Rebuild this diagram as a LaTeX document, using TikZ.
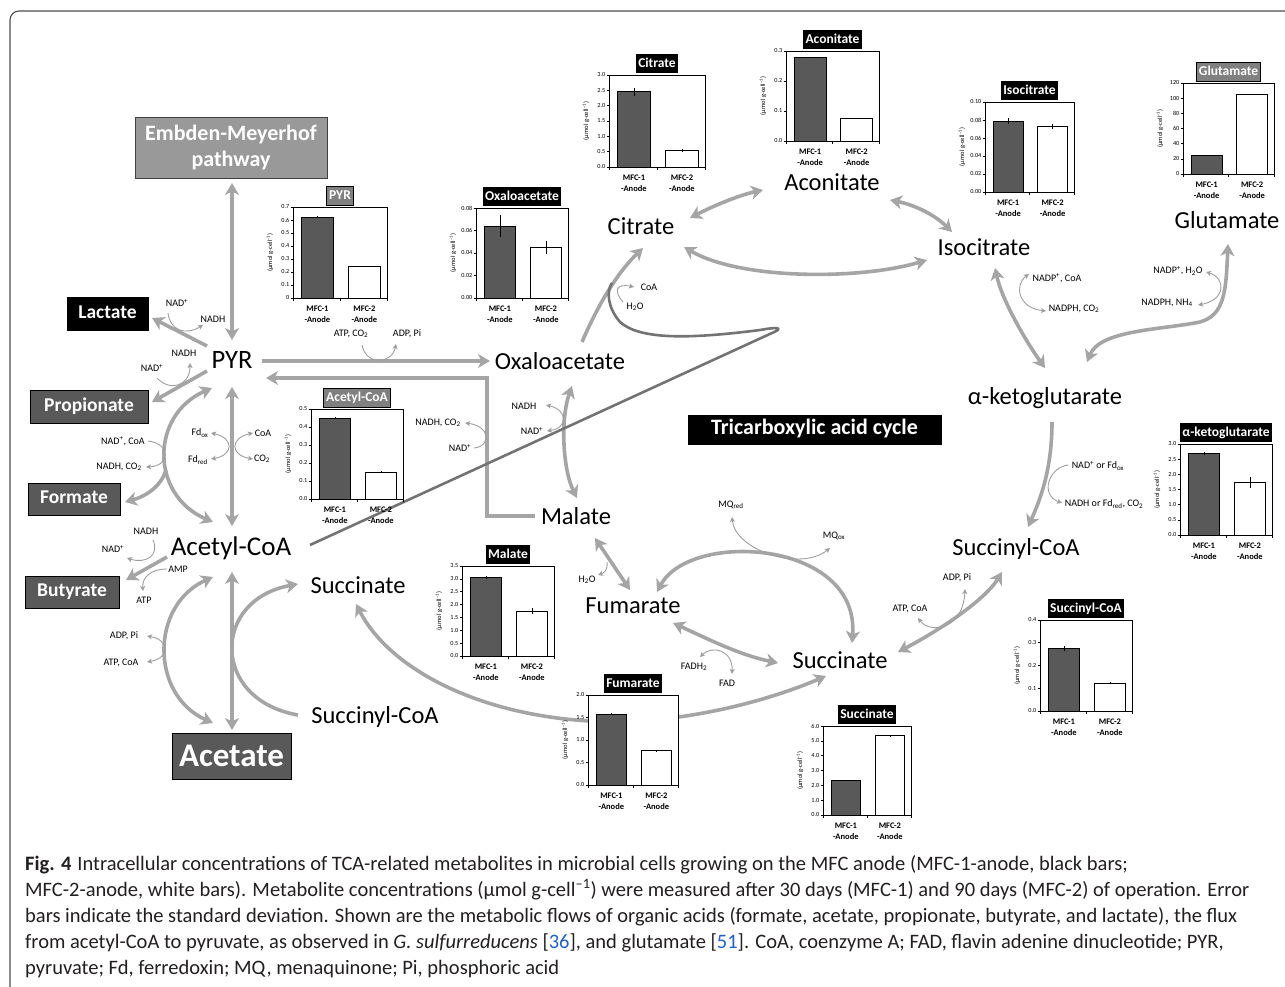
\documentclass[tikz,border=0pt]{standalone}
\usepackage{fontspec}
\setmainfont{Carlito}
\usetikzlibrary{arrows.meta,calc}
\definecolor{arr}{HTML}{A5A5A5}
\definecolor{cofc}{HTML}{9E9E9E}
\definecolor{dk}{HTML}{595959}
\definecolor{tgray}{HTML}{808080}
\definecolor{embc}{HTML}{999999}
\definecolor{loopc}{HTML}{737373}
\definecolor{framec}{HTML}{4D4D4D}
\definecolor{refblue}{HTML}{1F5FD6}
\definecolor{captxt}{HTML}{231F20}
\tikzset{
 FT/.tip={Stealth[length=12pt,width=14pt,inset=3.5pt]},
 ST/.tip={Stealth[length=5pt,width=5pt,inset=1.2pt]},
 flux/.style={draw=arr,line width=3.6pt},
 cofl/.style={draw=cofc,line width=0.9pt},
 loopl/.style={draw=loopc,line width=2.6pt},
 met/.style={inner sep=0pt,text height=16pt,text depth=0pt,font=\fontsize{24.5}{26}\selectfont},
 cof/.style={inner sep=0pt,font=\fontsize{10}{12}\selectfont},
 boxbase/.style={draw=black,fill=dk,text=white,inner sep=0pt,font=\bfseries\fontsize{19.5}{22}\selectfont},
 box/.style={boxbase,text height=12.5pt,text depth=3pt},
 ticklab/.style={anchor=east,inner sep=0pt,font=\fontsize{6.2}{7}\selectfont},
 xlab/.style={inner sep=0pt,font=\bfseries\fontsize{8.5}{9}\selectfont},
 ylab/.style={inner sep=0pt,rotate=90,font=\fontsize{6.5}{7}\selectfont},
 ctitle/.style={anchor=south,text=white,inner xsep=2.5pt,inner ysep=0pt,minimum height=19pt,text height=9.5pt,text depth=2.5pt,font=\bfseries\fontsize{13.5}{14}\selectfont},
 axisl/.style={draw=black,line width=0.6pt},
 capn/.style={anchor=base west,inner sep=0pt,text=captxt,font=\fontsize{20.5}{22}\selectfont},
}
\newcommand\mchart[8]{%
  \def\cL{#2}\def\cT{#3}\def\cR{#4}\def\cB{#5}\def\cM{#6}%
  \fill[white] (#2,#3) rectangle (#4,#5);
  \pgfmathtruncatemacro\cN{round(#6/#7)}%
  \foreach \i in {0,...,\cN}{%
    \pgfmathsetmacro\cy{#5-\i*#7/#6*(#5-#3)}%
    \pgfmathsetmacro\cv{\i*#7}%
    \draw[axisl] (#2-2.5,\cy) -- (#2,\cy);
    \node[ticklab] (#1t\i) at (#2-3.5,\cy) {\pgfmathprintnumber[#8,assume math mode=true]{\cv}};
  }%
  \pgfmathsetmacro\cXm{#2+0.26*(#4-#2)}%
  \pgfmathsetmacro\cXn{#2+0.76*(#4-#2)}%
  \node[xlab] (#1xa) at (\cXm,#5+11) {MFC-1};
  \node[xlab] (#1xb) at (\cXm,#5+22) {-Anode};
  \node[xlab] (#1xc) at (\cXn,#5+11) {MFC-2};
  \node[xlab] (#1xd) at (\cXn,#5+22) {-Anode};
  \node[ylab] (#1y) at (#2-23,{(#3+#5)/2}) {(μmol g-cell\textsuperscript{–1})};
}
\newcommand\mbars[4]{%
  \pgfmathsetmacro\cW{\cR-\cL}\pgfmathsetmacro\cH{\cB-\cT}%
  \pgfmathsetmacro\cYa{\cB-#1/\cM*\cH}\pgfmathsetmacro\cYb{\cB-#3/\cM*\cH}%
  \pgfmathsetmacro\cEa{#2/\cM*\cH}\pgfmathsetmacro\cEb{#4/\cM*\cH}%
  \pgfmathsetmacro\cXa{\cL+0.09*\cW}\pgfmathsetmacro\cXb{\cL+0.43*\cW}%
  \pgfmathsetmacro\cXc{\cL+0.59*\cW}\pgfmathsetmacro\cXd{\cL+0.93*\cW}%
  \pgfmathsetmacro\cXm{\cL+0.26*\cW}\pgfmathsetmacro\cXn{\cL+0.76*\cW}%
  \filldraw[fill=dk,draw=black,line width=0.8pt] (\cXa,\cB) rectangle (\cXb,\cYa);
  \filldraw[fill=white,draw=black,line width=0.8pt] (\cXc,\cB) rectangle (\cXd,\cYb);
  \draw[line width=0.6pt] (\cXm,\cYa-\cEa) -- (\cXm,\cYa+\cEa) (\cXn,\cYb-\cEb) -- (\cXn,\cYb+\cEb);
  \draw[axisl] (\cL,\cT) rectangle (\cR,\cB);
  \draw[axisl] (\cL,\cB) -- ++(0,3) ({(\cL+\cR)/2},\cB) -- ++(0,3) (\cR,\cB) -- ++(0,3);
}
\newcommand\mtitle[3]{%
  \node[ctitle,#2] (#1) at ({(\cL+\cR)/2},\cT-1.5) {#3};
}
\begin{document}
\begin{tikzpicture}[x=1pt,y=-1pt]
\path[use as bounding box] (0,0) rectangle (1285,987);
\draw[draw=framec,line width=1.1pt,rounded corners=9pt] (10,1300) -- (10,11) -- (1500,11);

% ---------- boxes ----------
\node[boxbase,fill=embc,draw=black!75,minimum width=192pt,minimum height=61pt,align=center,font=\bfseries\fontsize{22}{26}\selectfont] (emp) at (231,147.5) {Embden-Meyerhof\\pathway};
\node[box,fill=black,minimum width=81pt,minimum height=33pt] (lac) at (107.5,313.5) {Lactate};
\node[box,minimum width=118pt,minimum height=33pt] (prop) at (89,406.5) {Propionate};
\node[box,minimum width=92pt,minimum height=32pt] (form) at (74,499) {Formate};
\node[box,minimum width=94pt,minimum height=32pt] (buty) at (72,592) {Butyrate};
\node[box,minimum width=119pt,minimum height=46pt,font=\bfseries\fontsize{33}{36}\selectfont,text height=21pt,text depth=0pt] (acet) at (231.5,756) {Acetate};
\node[box,fill=black,minimum width=253pt,minimum height=29pt,font=\bfseries\fontsize{22}{24}\selectfont,text height=13.5pt,text depth=3pt] (tca) at (814.5,429.5) {Tricarboxylic acid cycle};

% ---------- metabolites ----------
\node[met,font=\fontsize{26.5}{28}\selectfont,text height=17pt] (pyr) at (232,360) {PYR};
\node[met] (oaa) at (560,361) {Oxaloacetate};
\node[met] (cit) at (641,226) {Citrate};
\node[met] (aco) at (832,183) {Aconitate};
\node[met] (iso) at (984,247) {Isocitrate};
\node[met] (glu) at (1227,221) {Glutamate};
\node[met] (akg) at (1045,396) {α-ketoglutarate};
\node[met] (scoa) at (1016,547) {Succinyl-CoA};
\node[met] (suc) at (840,660) {Succinate};
\node[met] (fum) at (633,605) {Fumarate};
\node[met] (mal) at (576,516) {Malate};
\node[met,font=\fontsize{27}{29}\selectfont,text height=17.4pt] (acoa) at (231,547) {Acetyl-CoA};
\node[met] (sucL) at (358,585) {Succinate};
\node[met] (scoaL) at (375,715) {Succinyl-CoA};

% ---------- cofactor labels ----------
\node[cof] (c1) at (177,303) {NAD\textsuperscript{+}};
\node[cof] (c2) at (213,319) {NADH};
\node[cof] (c3) at (184,353) {NADH};
\node[cof] (c4) at (152,368) {NAD\textsuperscript{+}};
\node[cof] (c5) at (123,441) {NAD\textsuperscript{+}, CoA};
\node[cof] (c6) at (119,467) {NADH, CO\textsubscript{2}};
\node[cof] (c7) at (200,433) {Fd\textsubscript{ox}};
\node[cof] (c8) at (198,460) {Fd\textsubscript{red}};
\node[cof] (c9) at (263,433) {CoA};
\node[cof] (c10) at (262,459) {CO\textsubscript{2}};
\node[cof] (c11) at (146,531) {NADH};
\node[cof] (c12) at (113,549) {NAD\textsuperscript{+}};
\node[cof] (c13) at (178,569) {AMP};
\node[cof] (c14) at (144,600) {ATP};
\node[cof] (c15) at (124,636) {ADP, Pi};
\node[cof] (c16) at (121,663) {ATP, CoA};
\node[cof] (c17) at (351,334) {ATP, CO\textsubscript{2}};
\node[cof] (c18) at (407,334) {ADP, Pi};
\node[cof] (c19) at (438,423) {NADH, CO\textsubscript{2}};
\node[cof] (c20) at (460,448) {NAD\textsuperscript{+}};
\node[cof] (c21) at (524,406) {NADH};
\node[cof] (c22) at (532,431) {NAD\textsuperscript{+}};
\node[cof] (c23) at (649,287) {CoA};
\node[cof] (c24) at (635,307) {H\textsubscript{2}O};
\node[cof] (c25) at (1057,278) {NADP\textsuperscript{+}, CoA};
\node[cof] (c26) at (1074,309) {NADPH, CO\textsubscript{2}};
\node[cof] (c27) at (1178,271) {NADP\textsuperscript{+}, H\textsubscript{2}O};
\node[cof] (c28) at (1167,303) {NADPH, NH\textsubscript{4}};
\node[cof] (c29) at (1098,466) {NAD\textsuperscript{+} or Fd\textsubscript{ox}};
\node[cof] (c30) at (1104,504) {NADH or Fd\textsubscript{red}, CO\textsubscript{2}};
\node[cof] (c31) at (957,578) {ADP, Pi};
\node[cof] (c32) at (910,609) {ATP, CoA};
\node[cof] (c33) at (731,505) {MQ\textsubscript{red}};
\node[cof] (c34) at (834,536) {MQ\textsubscript{ox}};
\node[cof] (c35) at (587,580) {H\textsubscript{2}O};
\node[cof] (c36) at (694,667) {FADH\textsubscript{2}};
\node[cof] (c37) at (727,683) {FAD};

% ---------- flux arrows ----------
\draw[flux,FT-FT] ($(emp)+(1,35.5)$) -- ($(pyr)+(0,-20)$);
\draw[flux,-FT] ($(pyr)+(-25,-14)$) -- ($(lac)+(44.5,4.5)$);
\draw[flux,-FT] ($(pyr)+(-25,11)$) -- ($(prop)+(63,-4.5)$);
\draw[flux,FT-FT] ($(pyr)+(-20,28)$) .. controls (150,415) and (150,495) .. ($(acoa)+(-18,-25)$);
\coordinate (fsplit) at (166,470);
\draw[flux,-FT] (fsplit) .. controls (160,490) and (140,498) .. ($(form)+(51,3)$);
\draw[flux,FT-FT] ($(pyr)+(0,27)$) -- ($(acoa)+(1,-21)$);
\draw[flux,-FT] ($(acoa)+(-64,10)$) -- ($(buty)+(54,-12)$);
\draw[flux,FT-FT] ($(acoa)+(1,25)$) -- ($(acet)+(0.5,-26)$);
\draw[flux,FT-FT] ($(acoa)+(-18,30)$) .. controls (150,605) and (150,695) .. ($(acet)+(-18.5,-33)$);
\draw[flux,-FT] ($(scoaL)+(-77,0)$) .. controls (211,700) and (211,600) .. ($(sucL)+(-60,-1)$);
\draw[flux,FT-FT] ($(sucL)+(-2,19)$) .. controls (390,670) and (480,715) .. (590,721) .. controls (680,726) and (770,700) .. ($(suc)+(-14,16)$);
\draw[flux,-FT] ($(pyr)+(30,1)$) -- ($(oaa)+(-70,0)$);
\draw[flux,-FT] ($(mal)+(-41,0)$) -- ++(-48,0) -- ++(0,-138) -- ($(pyr)+(34,18)$);
\draw[flux,FT-FT] ($(oaa)+(12,25)$) .. controls (560,420) and (563,470) .. ($(mal)+(1,-18)$);
\draw[flux,-FT] ($(oaa)+(22,-19)$) .. controls (600,300) and (620,270) .. ($(cit)+(2,22)$);
\draw[flux,FT-FT] ($(cit)+(49,-8)$) .. controls (715,205) and (740,195) .. ($(aco)+(-69,7)$);
\draw[flux,FT-FT] ($(aco)+(58,17)$) .. controls (915,205) and (935,215) .. ($(iso)+(-32,-15)$);
\draw[flux,FT-FT] ($(iso)+(-57,13)$) .. controls (860,280) and (740,280) .. ($(cit)+(43,21)$);
\draw[flux,FT-FT] ($(iso)+(11,21)$) .. controls (1002,300) and (1025,340) .. ($(akg)+(0,-28)$);
\draw[flux,FT-FT] ($(akg)+(42,-34)$) .. controls (1100,330) and (1160,330) .. (1200,322) .. controls (1225,315) and (1226,290) .. ($(glu)+(1,23)$);
\draw[flux,-FT] ($(akg)+(7,26)$) .. controls (1052,470) and (1040,500) .. ($(scoa)+(12,-20)$);
\draw[flux,FT-FT] ($(scoa)+(-14,25)$) .. controls (985,600) and (940,630) .. ($(suc)+(58,-8)$);
\draw[flux,FT-FT] ($(fum)+(24,-13)$) .. controls (690,530) and (860,540) .. ($(suc)+(12,-17)$);
\draw[flux,FT-FT] ($(mal)+(19,22)$) -- ($(fum)+(-3,-15)$);
\draw[flux,FT-FT] ($(fum)+(40,18)$) .. controls (710,640) and (740,655) .. ($(suc)+(-62,3)$);

% acetyl-CoA to citrate loop
\draw[loopl,line join=round] ($(acoa)+(79,-2)$) -- (772,333) .. controls (782,329) and (782,326) .. (760,330) .. controls (690,339) and (640,340) .. (620,322) .. controls (608,308) and (606,292) .. ($(cit)+(-29,57)$);

% ---------- cofactor curves ----------
\draw[cofl,-ST] ($(c1)+(-9,10)$) .. controls (170,330) and (185,336) .. ($(c2)+(-10,6)$);
\draw[cofl,-ST] ($(c4)+(5,10)$) .. controls (170,392) and (190,386) .. ($(c3)+(6,10)$);
\draw[cofl,-ST] ($(c5)+(25,0)$) .. controls (172,444) and (170,466) .. ($(c6)+(27,0)$);
\draw[cofl,ST-ST] ($(c7)+(11,0)$) .. controls (234,438) and (234,455) .. ($(c8)+(13,-1)$);
\draw[cofl,ST-ST] ($(c9)+(-10,0)$) .. controls (230,438) and (230,455) .. ($(c10)+(-9,0)$);
\draw[cofl,-ST] ($(c11)+(7,9)$) .. controls (160,556) and (145,564) .. ($(c12)+(14,9)$);
\draw[cofl,-ST] ($(c13)+(-11,0)$) .. controls (150,569) and (142,578) .. ($(c14)+(-1,-9)$);
\draw[cofl,ST-ST] ($(c15)+(23,0)$) .. controls (170,640) and (170,658) .. ($(c16)+(26,-1)$);
\draw[cofl,-ST] ($(c17)+(11,11)$) .. controls (366,366) and (392,364) .. ($(c18)+(-11,10)$);
\draw[cofl,-ST] ($(c20)+(14,0)$) .. controls (492,446) and (490,426) .. ($(c19)+(27,0)$);
\draw[cofl,ST-ST] ($(c21)+(22,-1)$) .. controls (568,410) and (568,428) .. ($(c22)+(15,0)$);
\draw[cofl,-ST] ($(c24)+(-12,-5)$) .. controls (614,292) and (615,283) .. ($(c23)+(-15,0)$);
\draw[cofl,ST-ST] ($(c25)+(-28,-4)$) .. controls (1014,285) and (1018,308) .. ($(c26)+(-28,2)$);
\draw[cofl,ST-ST] ($(c27)+(28,1)$) .. controls (1226,278) and (1226,300) .. ($(c28)+(31,2)$);
\draw[cofl,-ST] ($(c29)+(-30,-1)$) .. controls (1048,468) and (1040,495) .. ($(c30)+(-42,-1)$);
\draw[cofl,ST-ST] ($(c32)+(8,9)$) .. controls (930,634) and (963,630) .. ($(c31)+(8,11)$);
\draw[cofl,ST-ST] ($(c33)+(1,12)$) .. controls (735,550) and (800,572) .. ($(c34)+(-4,12)$);
\draw[cofl,-ST] ($(c35)+(20,-18)$) .. controls (608,570) and (604,573) .. ($(c35)+(11,-5)$);
\draw[cofl,ST-ST] ($(c36)+(6,-10)$) .. controls (712,645) and (733,650) .. ($(c37)+(5,-9)$);

% ---------- bar charts ----------
\mchart{chPYR}{293}{207}{387}{298}{0.7}{0.1}{fixed,precision=1}
\mbars{0.62}{0.008}{0.24}{0}
\mtitle{tPYR}{fill=tgray,draw=black}{PYR}

\mchart{chACOA}{311}{409}{403}{499}{0.5}{0.1}{fixed,fixed zerofill,precision=1}
\mbars{0.45}{0.004}{0.15}{0.003}
\mtitle{tACOA}{fill=tgray,draw=black}{Acetyl-CoA}

\mchart{chOAA}{476}{208}{568}{298}{0.08}{0.02}{fixed,fixed zerofill,precision=2}
\mbars{0.064}{0.01}{0.045}{0.006}
\mtitle{tOAA}{fill=black}{Oxaloacetate}

\mchart{chCIT}{609}{75}{705}{167}{3}{0.5}{fixed,fixed zerofill,precision=1}
\mbars{2.45}{0.12}{0.55}{0.05}
\mtitle{tCIT}{fill=black}{Citrate}

\mchart{chACO}{786}{51}{879}{141}{0.3}{0.1}{fixed,fixed zerofill,precision=1}
\mbars{0.278}{0.003}{0.075}{0}
\mtitle{tACO}{fill=black}{Aconitate}

\mchart{chISO}{985}{102}{1074}{192}{0.1}{0.02}{fixed,fixed zerofill,precision=2}
\mbars{0.079}{0.003}{0.073}{0.003}
\mtitle{tISO}{fill=black}{Isocitrate}

\mchart{chGLU}{1183}{83}{1274}{174}{120}{20}{fixed,precision=0}
\mbars{24}{0.5}{105}{1}
\mtitle{tGLU}{fill=tgray,draw=black}{Glutamate}

\mchart{chAKG}{1180}{444}{1272}{535}{3}{0.5}{fixed,fixed zerofill,precision=1}
\mbars{2.7}{0.05}{1.73}{0.18}
\mtitle{tAKG}{fill=black}{α-ketoglutarate}

\mchart{chSCOA}{1040}{620}{1132}{711}{0.4}{0.1}{fixed,fixed zerofill,precision=1}
\mbars{0.275}{0.012}{0.123}{0.004}
\mtitle{tSCOA}{fill=black}{Succinyl-CoA}

\mchart{chMAL}{462}{566}{554}{656}{3.5}{0.5}{fixed,fixed zerofill,precision=1}
\mbars{3.05}{0.05}{1.75}{0.1}
\mtitle{tMAL}{fill=black}{Malate}

\mchart{chFUM}{588}{695}{678}{785}{2}{0.5}{fixed,fixed zerofill,precision=1}
\mbars{1.58}{0.03}{0.76}{0.02}
\mtitle{tFUM}{fill=black}{Fumarate}

\mchart{chSUC}{823}{726}{911}{815}{6}{1}{fixed,fixed zerofill,precision=1}
\mbars{2.3}{0}{5.35}{0.07}
\mtitle{tSUC}{fill=black}{Succinate}

% ---------- caption ----------
\node[capn] (cap1) at (25,870) {\textbf{Fig. 4}\hspace{6pt}Intracellular concentrations of TCA-related metabolites in microbial cells growing on the MFC anode (MFC-1-anode, black bars;};
\node[capn] (cap2) at (25,896) {MFC-2-anode, white bars). Metabolite concentrations (μmol g-cell\textsuperscript{–1}) were measured after 30 days (MFC-1) and 90 days (MFC-2) of operation. Error};
\node[capn] (cap3) at (25,922) {bars indicate the standard deviation. Shown are the metabolic flows of organic acids (formate, acetate, propionate, butyrate, and lactate), the flux};
\node[capn] (cap4) at (25,948) {from acetyl-CoA to pyruvate, as observed in \textit{G. sulfurreducens} [\textcolor{refblue}{36}], and glutamate [\textcolor{refblue}{51}]. CoA, coenzyme A; FAD, flavin adenine dinucleotide; PYR,};
\node[capn] (cap5) at (25,974) {pyruvate; Fd, ferredoxin; MQ, menaquinone; Pi, phosphoric acid};
\end{tikzpicture}
\end{document}
